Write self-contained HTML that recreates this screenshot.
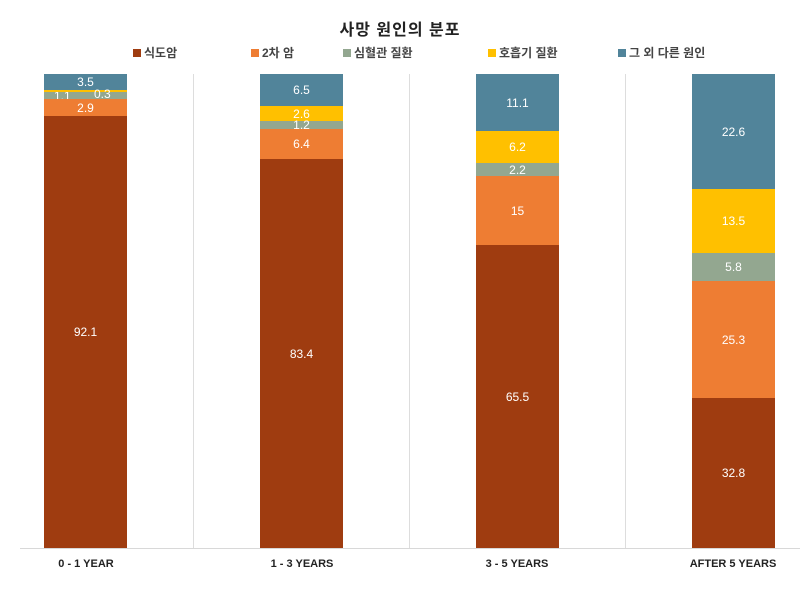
<!DOCTYPE html>
<html><head><meta charset="utf-8"><style>
body{margin:0;width:800px;height:594px;background:#fff;font-family:"Liberation Sans","Noto Sans CJK KR",sans-serif;position:relative;overflow:hidden}
.t{position:absolute;top:16px;left:0;width:800px;text-align:center;font-size:16px;color:#222;letter-spacing:1px;font-weight:bold}
.lg{position:absolute;top:44px;font-size:12px;color:#444;font-weight:bold}
.lg i{display:inline-block;width:8px;height:8px;margin-right:3px;vertical-align:0}
.grid{position:absolute;top:74px;height:474px;width:1px;background:#ddd}
.base{position:absolute;left:20px;width:780px;top:548px;height:1px;background:#d8d8d8}
.bar{position:absolute;top:74px;height:474px;width:83px;display:flex;flex-direction:column}
.bar div{color:#fff;font-size:12px;display:flex;align-items:center;justify-content:center;overflow:visible;line-height:1;flex:none}
.c5{background:#51849A}.c4{background:#FFC000}.c3{background:#93A790}.c2{background:#EE7D33}.c1{background:#9F3C10}
.xl{position:absolute;top:558px;width:140px;text-align:center;font-size:11px;font-weight:bold;color:#222}
</style></head><body>
<div class="t">사망 원인의 분포</div>
<div class="lg" style="left:133px"><i class="c1"></i>식도암</div>
<div class="lg" style="left:251px"><i class="c2"></i>2차 암</div>
<div class="lg" style="left:343px"><i class="c3"></i>심혈관 질환</div>
<div class="lg" style="left:488px"><i class="c4"></i>호흡기 질환</div>
<div class="lg" style="left:618px"><i class="c5"></i>그 외 다른 원인</div>
<div class="grid" style="left:193px"></div><div class="grid" style="left:409px"></div><div class="grid" style="left:625px"></div>
<div class="base"></div>
<div class="bar" style="left:44px">
<div class="c5" style="height:16px">3.5</div><div class="c4" style="height:2px;position:relative"><span style="position:absolute;left:50px;top:-2px">0.3</span></div><div class="c3" style="height:7px;justify-content:flex-start;padding-left:10px">1.1</div><div class="c2" style="height:17px">2.9</div><div class="c1" style="height:432px">92.1</div></div>
<div class="bar" style="left:260px">
<div class="c5" style="height:32px">6.5</div><div class="c4" style="height:15px">2.6</div><div class="c3" style="height:8px">1.2</div><div class="c2" style="height:30px">6.4</div><div class="c1" style="height:389px">83.4</div></div>
<div class="bar" style="left:476px">
<div class="c5" style="height:57px">11.1</div><div class="c4" style="height:32px">6.2</div><div class="c3" style="height:13px">2.2</div><div class="c2" style="height:69px">15</div><div class="c1" style="height:303px">65.5</div></div>
<div class="bar" style="left:692px">
<div class="c5" style="height:115px">22.6</div><div class="c4" style="height:64px">13.5</div><div class="c3" style="height:28px">5.8</div><div class="c2" style="height:117px">25.3</div><div class="c1" style="height:150px">32.8</div></div>
<div class="xl" style="left:16px">0 - 1 YEAR</div>
<div class="xl" style="left:232px">1 - 3 YEARS</div>
<div class="xl" style="left:447px">3 - 5 YEARS</div>
<div class="xl" style="left:663px">AFTER 5 YEARS</div>
</body></html>
